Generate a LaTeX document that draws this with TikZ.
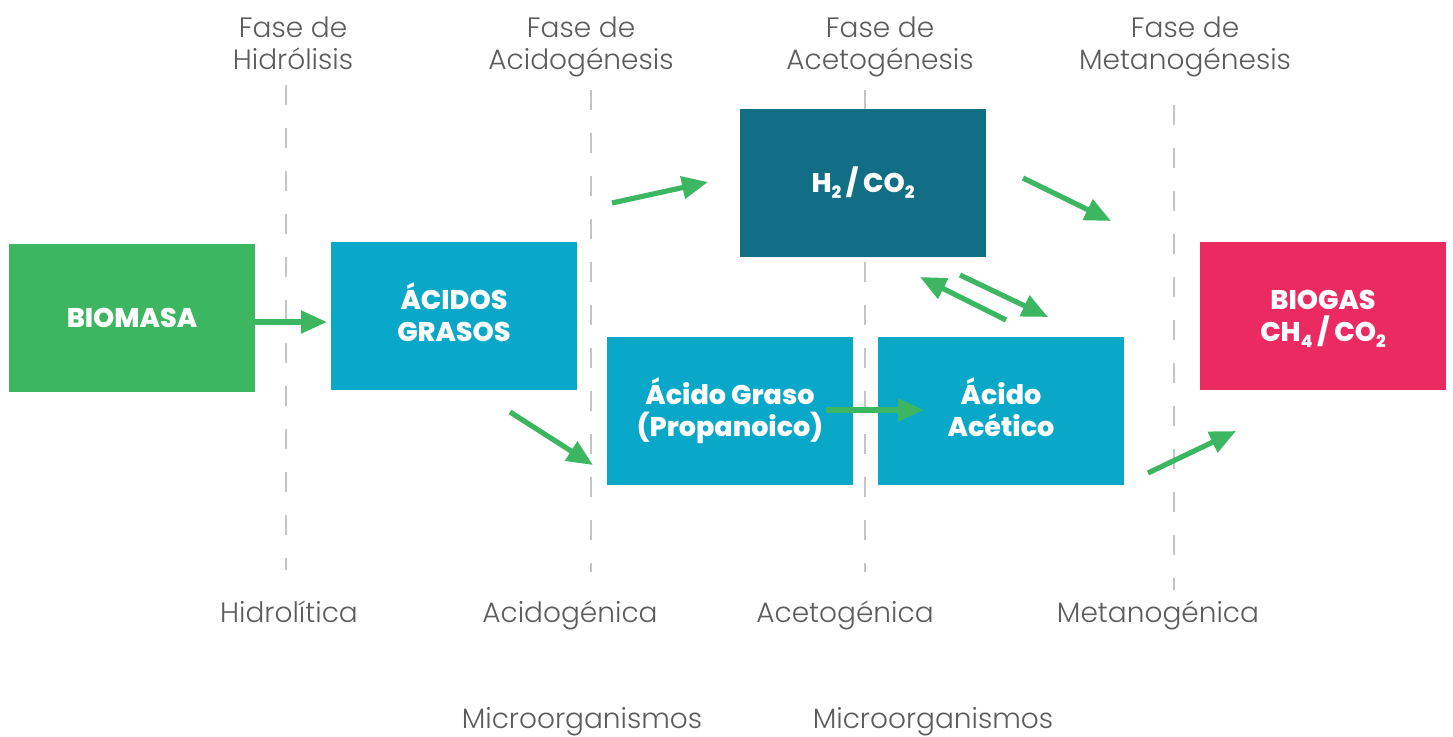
\documentclass[tikz,border=0pt]{standalone}
\usepackage{fontspec}
\setmainfont{Poppins}
\newfontfamily\lightfont{Poppins}[UprightFont=* Light]
\newfontfamily\heavyfont{Poppins}[UprightFont=* ExtraBold]
\usetikzlibrary{arrows.meta}
\definecolor{cgreen}{HTML}{3DB662}
\definecolor{ccyan}{HTML}{09A8C9}
\definecolor{cteal}{HTML}{116E84}
\definecolor{cpink}{HTML}{EC2A62}
\definecolor{cgraytext}{HTML}{5C5C5C}
\definecolor{cdash}{HTML}{C4C4C4}
\newcommand\lowsub[1]{\raisebox{-0.4ex}{\fontsize{8.5}{8.5}\selectfont #1}}
\newcommand\lnstrut{\vphantom{ÁÉ(y)}}
\newcommand\tightlines{\lineskiplimit -100pt\relax}
\begin{document}
\begin{tikzpicture}[x=0.5pt,y=-0.5pt,
  box/.style={minimum width=123pt,minimum height=74pt,inner sep=0pt,text=white,
    font=\heavyfont\fontsize{13.5}{16}\selectfont\tightlines,align=center},
  phase/.style={text=cgraytext,font=\lightfont\fontsize{14}{16}\selectfont,align=center,inner sep=0pt},
  sep/.style={draw=cdash,line width=1pt,dash pattern=on 10pt off 11.5pt},
  flow/.style={draw=cgreen,line width=2.6pt,-{Triangle[length=13pt,width=11pt]}}]
\useasboundingbox (0,0) rectangle (1453,736);
% separators
\coordinate (s1a) at (286,85); \coordinate (s1b) at (286,570);
\coordinate (s2a) at (591,90); \coordinate (s2b) at (591,572);
\coordinate (s3a) at (865,90); \coordinate (s3b) at (865,572);
\coordinate (s4a) at (1174,105); \coordinate (s4b) at (1174,590);
\draw[sep] (s1a) -- (s1b);
\draw[sep] (s2a) -- (s2b);
\draw[sep] (s3a) -- (s3b);
\draw[sep] (s4a) -- (s4b);
% phase labels
\node[phase,anchor=north] (p1) at (293,16) {Fase de\\Hidrólisis};
\node[phase,anchor=north] (p2) at (581,16) {Fase de\\Acidogénesis};
\node[phase,anchor=north] (p3) at (880,16) {Fase de\\Acetogénesis};
\node[phase,anchor=north] (p4) at (1185,16) {Fase de\\Metanogénesis};
\node[phase,anchor=base] (m1) at (289,622) {Hidrolítica};
\node[phase,anchor=base] (m2) at (570,622) {Acidogénica};
\node[phase,anchor=base] (m3) at (845,622) {Acetogénica};
\node[phase,anchor=base] (m4) at (1158,622) {Metanogénica};
\node[phase,anchor=base] (o1) at (582,728) {Microorganismos};
\node[phase,anchor=base] (o2) at (933,728) {Microorganismos};
% boxes
\node[box,fill=cgreen] (bio) at (132,318) {\lnstrut BIOMASA};
\node[box,fill=ccyan] (acg) at (454,316) {\lnstrut ÁCIDOS\\\lnstrut GRASOS};
\node[box,fill=cteal] (h2) at (863,183) {\lnstrut H\lowsub{2} / CO\lowsub{2}};
\node[box,fill=ccyan] (prop) at (730,411) {\lnstrut Ácido Graso\\\lnstrut (Propanoico)};
\node[box,fill=ccyan] (acet) at (1001,411) {\lnstrut Ácido\\\lnstrut Acético};
\node[box,fill=cpink] (gas) at (1323,316) {\lnstrut BIOGAS\\\lnstrut CH\lowsub{4} / CO\lowsub{2}};
% arrow free ends
\coordinate (a1s) at (bio.east|-0,322); \coordinate (a1e) at (327,322);
\coordinate (a2s) at (510,412); \coordinate (a2e) at (593,465);
\coordinate (a3s) at (612,203); \coordinate (a3e) at (708,182);
\coordinate (a4s) at (1023,178); \coordinate (a4e) at (1111,221);
\coordinate (a5s) at (1006,320); \coordinate (a5e) at (920,277);
\coordinate (a6s) at (960,275); \coordinate (a6e) at (1048,317);
\coordinate (a7s) at (826,410); \coordinate (a7e) at (924,410);
\coordinate (a8s) at (1148,473); \coordinate (a8e) at (1236,431);
\draw[flow] (a1s) -- (a1e);
\draw[flow] (a2s) -- (a2e);
\draw[flow] (a3s) -- (a3e);
\draw[flow] (a4s) -- (a4e);
\draw[flow] (a5s) -- (a5e);
\draw[flow] (a6s) -- (a6e);
\draw[flow] (a7s) -- (a7e);
\draw[flow] (a8s) -- (a8e);
\end{tikzpicture}
\end{document}
